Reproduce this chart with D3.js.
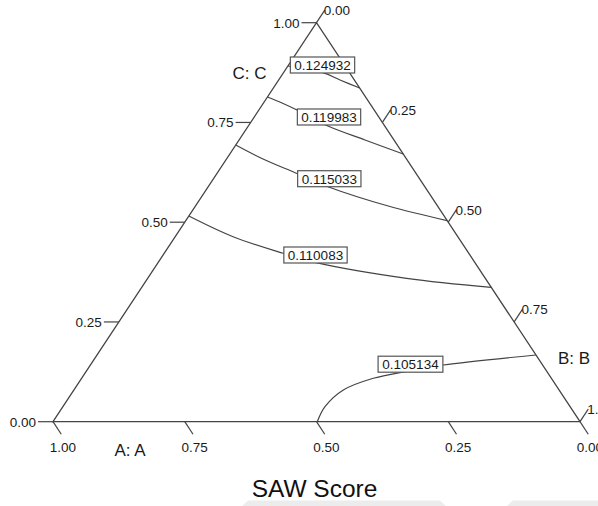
<!DOCTYPE html>
<html>
<head>
<meta charset="utf-8">
<script src="https://cdn.jsdelivr.net/npm/d3@7"></script>
<style>
  html, body { margin: 0; padding: 0; background: #fff; }
  svg { display: block; font-family: "Liberation Sans", Arial, sans-serif; }
</style>
</head>
<body>
<svg id="chart" width="598" height="506"></svg>
<script>
// ---- data ----
const tickValues = [0, 0.25, 0.5, 0.75, 1];
const tickLabels = ["0.00", "0.25", "0.50", "0.75", "1.00"];
const axisNames = ["A: A", "B: B", "C: C"];
const title = "SAW Score";

const contourLevels = ["0.124932", "0.119983", "0.115033", "0.110083", "0.105134"];

// contour paths as [B, C] compositions (A = 1 - B - C)
const contour1 = [[0, 0.8915], [0.075, 0.8747], [0.1164, 0.8564], [0.1637, 0.8363]];
const contour2 = [[0, 0.8138], [0.0351, 0.7988], [0.0724, 0.7812], [0.1512, 0.7411], [0.2390, 0.7060], [0.3291, 0.6709]];
const contour3 = [[0, 0.6935], [0.0693, 0.6584], [0.1472, 0.6241], [0.2273, 0.5890], [0.3659, 0.5406], [0.4962, 0.5038]];
const contour4 = [[0, 0.5155], [0.1098, 0.4637], [0.2260, 0.4221], [0.2974, 0.3995], [0.4915, 0.3594], [0.6632, 0.3368]];
const contour5 = [[0.5015, 0], [0.4973, 0.0376], [0.5112, 0.0794], [0.5534, 0.1088], [0.6135, 0.1278], [0.6695, 0.1421], [0.8328, 0.1672]];
const contours = [contour1, contour2, contour3, contour4, contour5];

// label anchor positions as [B, C]
const labelPos = [[0.0644, 0.894], [0.1419, 0.7637], [0.2198, 0.609], [0.2892, 0.4178], [0.6063, 0.1441]];

// ---- drawing ----
const svg = d3.select("#chart");
const x = d3.scaleLinear().domain([0, 1]).range([53, 580]);
const y = d3.scaleLinear().domain([0, 1]).range([421.7, 22.7]);
const proj = ([b, c]) => [x(b + c / 2), y(c)];

const lineColor = "#444";
const textColor = "#1a1a1a";

// faint page artifacts at the bottom
svg.append("polygon").attr("points", "248,500.5 440,500.5 446,506 242,506").attr("fill", "#ececec");
svg.append("polygon").attr("points", "513,500.5 598,500.5 598,506 507,506").attr("fill", "#ececec");

// triangle
const vA = proj([0, 0]), vB = proj([1, 0]), vC = proj([0, 1]);
svg.append("path")
  .attr("d", d3.line()([vA, vB, vC]) + "Z")
  .attr("fill", "none").attr("stroke", lineColor).attr("stroke-width", 1.3);

// contours
const line = d3.line().curve(d3.curveCatmullRom.alpha(0.5));
svg.append("g").selectAll("path").data(contours).join("path")
  .attr("d", d => line(d.map(proj)))
  .attr("fill", "none").attr("stroke", lineColor).attr("stroke-width", 1.2);

// ticks
const TL = 15;
const dirUp = [ (vC[0] - vA[0]), (vC[1] - vA[1]) ];
const nUp = Math.hypot(dirUp[0], dirUp[1]);
const uUp = [dirUp[0] / nUp, dirUp[1] / nUp];         // up-right (parallel to left edge)
const dirDn = [ (vB[0] - vC[0]), (vB[1] - vC[1]) ];
const nDn = Math.hypot(dirDn[0], dirDn[1]);
const uDn = [dirDn[0] / nDn, dirDn[1] / nDn];         // down-right (parallel to right edge)

const ticks = svg.append("g").attr("font-size", "13.5px").attr("fill", textColor);

// C axis (left edge): point with B=0, C=v
tickValues.forEach((v, i) => {
  const p = proj([0, v]);
  ticks.append("line").attr("x1", p[0]).attr("y1", p[1]).attr("x2", p[0] - TL).attr("y2", p[1])
    .attr("stroke", lineColor).attr("stroke-width", 1.2);
  ticks.append("text").attr("x", p[0] - TL - 2).attr("y", p[1] + 4.8)
    .attr("text-anchor", "end").text(tickLabels[i]);
});

// B axis (right edge): A=0, B=v, C=1-v
tickValues.forEach((v, i) => {
  const p = proj([v, 1 - v]);
  const e = [p[0] + uUp[0] * TL, p[1] + uUp[1] * TL];
  ticks.append("line").attr("x1", p[0]).attr("y1", p[1]).attr("x2", e[0]).attr("y2", e[1])
    .attr("stroke", lineColor).attr("stroke-width", 1.2);
  ticks.append("text").attr("x", e[0] - 1).attr("y", e[1] + 5)
    .attr("text-anchor", "start").text(tickLabels[i]);
});

// A axis (bottom edge): C=0, A=v -> B=1-v
tickValues.forEach((v, i) => {
  const p = proj([1 - v, 0]);
  const e = [p[0] + uDn[0] * TL, p[1] + uDn[1] * TL];
  ticks.append("line").attr("x1", p[0]).attr("y1", p[1]).attr("x2", e[0]).attr("y2", e[1])
    .attr("stroke", lineColor).attr("stroke-width", 1.2);
  ticks.append("text").attr("x", e[0] + 1.5).attr("y", e[1] + 17.5)
    .attr("text-anchor", "middle").text(tickLabels[i]);
});

// axis names
const names = svg.append("g").attr("font-size", "17px").attr("fill", textColor);
names.append("text").attr("x", 130).attr("y", 456).attr("text-anchor", "middle").text(axisNames[0]);
names.append("text").attr("x", 574).attr("y", 364).attr("text-anchor", "middle").text(axisNames[1]);
names.append("text").attr("x", 249.5).attr("y", 79).attr("text-anchor", "middle").text(axisNames[2]);

// contour labels
const lg = svg.append("g");
labelPos.forEach((pos, i) => {
  const p = proj(pos);
  const g = lg.append("g").attr("transform", `translate(${p[0]},${p[1]})`);
  const rect = g.append("rect").attr("fill", "#fff").attr("stroke", "#555").attr("stroke-width", 1.2);
  const t = g.append("text").attr("font-size", "13.5px").attr("fill", textColor)
    .attr("text-anchor", "middle").attr("y", 4.8).text(contourLevels[i]);
  const bb = t.node().getBBox();
  rect.attr("x", -bb.width / 2 - 4).attr("y", -8).attr("width", bb.width + 8).attr("height", 16);
});

// title
svg.append("text").attr("x", 314.5).attr("y", 496.5).attr("text-anchor", "middle")
  .attr("font-size", "24.5px").attr("fill", "#111").text(title);
</script>
</body>
</html>
